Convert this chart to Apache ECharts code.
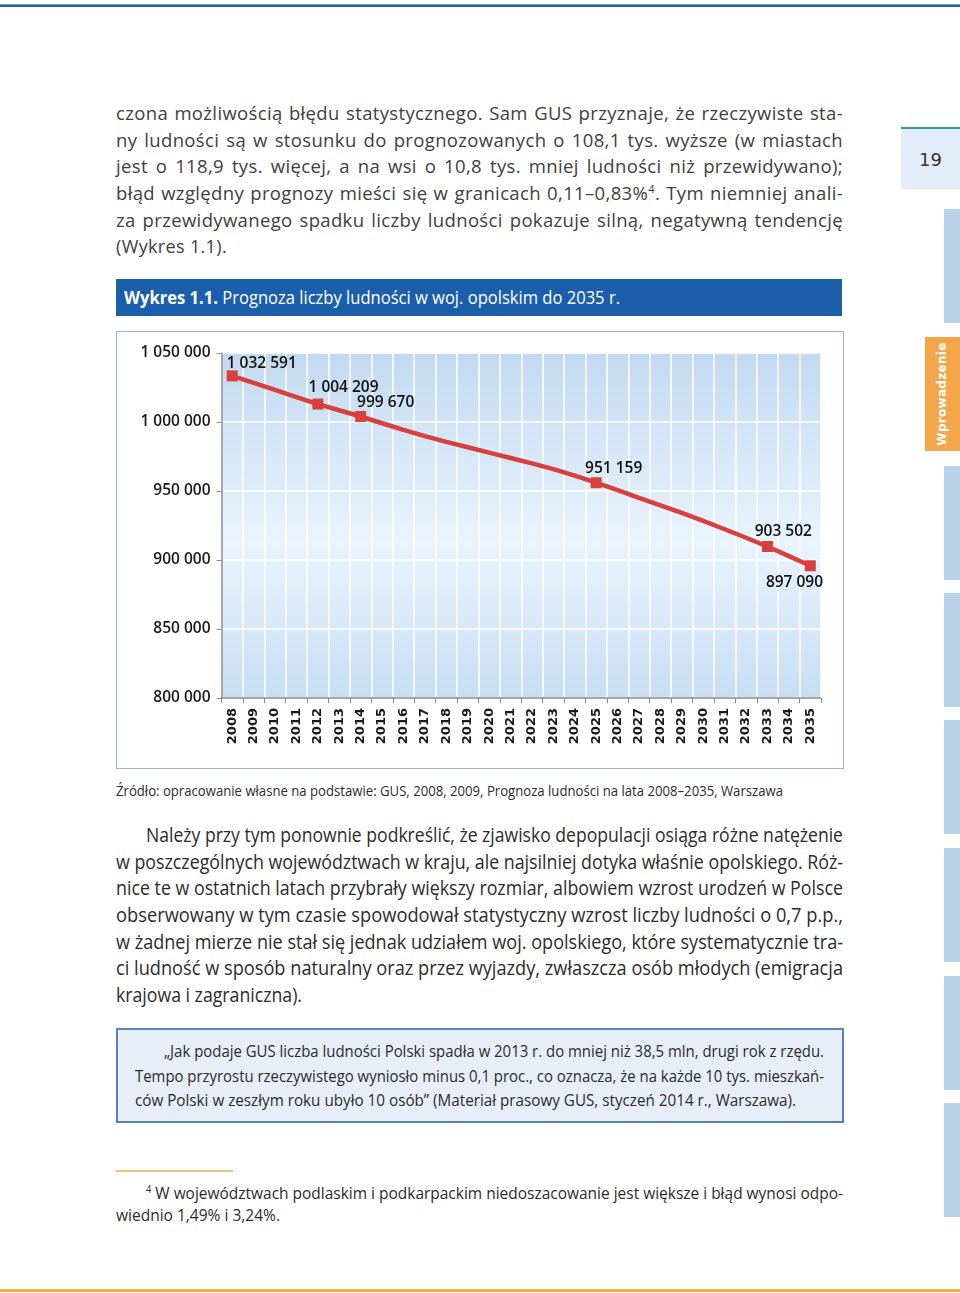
<!DOCTYPE html>
<html lang="pl">
<head>
<meta charset="utf-8">
<script src="https://cdn.jsdelivr.net/npm/echarts@6/dist/echarts.min.js"></script>
<style>
  html, body { margin: 0; padding: 0; background: #fff; }
  #page { position: relative; width: 960px; height: 1293px; overflow: hidden; background: #fff; }
  .ln { position: absolute; white-space: nowrap; display: inline-block; height: 26px; line-height: 26px; }
  .p1 { font-family: "Open Sans", sans-serif; font-size: 18.5px; color: #404040; font-weight: 400; letter-spacing: 0.35px; }
  .p2 { font-family: "Liberation Sans Narrow", "Open Sans", sans-serif; font-size: 19.5px; color: #2b2b2b; }
  .src { font-family: "Liberation Sans Narrow", "Open Sans", sans-serif; font-size: 14px; color: #2b2b2b; }
  .q { font-family: "Liberation Sans Narrow", "Open Sans", sans-serif; font-size: 17px; color: #2b2b2b; }
  .fn { font-family: "Liberation Sans Narrow", "Open Sans", sans-serif; font-size: 17px; color: #2b2b2b; }
  sup { font-size: 60%; line-height: 0; vertical-align: 0.6em; }
</style>
</head>
<body>
<div id="page">
  <!-- top rule -->
  <div style="position:absolute;left:0;top:4px;width:960px;height:1px;background:#58b3c9"></div>
  <div style="position:absolute;left:0;top:5px;width:960px;height:2px;background:#2b5f86"></div>

  <!-- right side page number and tabs -->
  <div style="position:absolute;left:901px;top:127px;width:59px;height:62px;background:#e3edf7;border-top:2px solid #3c93b2;box-sizing:border-box"></div>
  <div style="position:absolute;left:901px;top:147px;width:59px;height:26px;line-height:26px;text-align:center;font-family:'DejaVu Sans',sans-serif;font-size:18px;color:#333">19</div>
  <div id="tabs"></div>

  <!-- paragraph 1 -->
  <div class="ln p1" style="left:116px;top:100px" data-w="727" data-j="1">czona możliwością błędu statystycznego. Sam GUS przyznaje, że rzeczywiste sta-</div>
  <div class="ln p1" style="left:116px;top:127px" data-w="727" data-j="1">ny ludności są w stosunku do prognozowanych o 108,1 tys. wyższe (w miastach</div>
  <div class="ln p1" style="left:116px;top:153px" data-w="727" data-j="1">jest o 118,9 tys. więcej, a na wsi o 10,8 tys. mniej ludności niż przewidywano);</div>
  <div class="ln p1" style="left:116px;top:180px" data-w="727" data-j="1">błąd względny prognozy mieści się w granicach 0,11–0,83%<sup>4</sup>. Tym niemniej anali-</div>
  <div class="ln p1" style="left:116px;top:207px" data-w="727" data-j="1">za przewidywanego spadku liczby ludności pokazuje silną, negatywną tendencję</div>
  <div class="ln p1" style="left:116px;top:233px" data-w="111">(Wykres 1.1).</div>

  <!-- chart title bar -->
  <div style="position:absolute;left:116px;top:279px;width:726px;height:37px;background:#1b5eaa"></div>
  <div class="ln" style="left:124px;top:284px;font-family:'Liberation Sans Narrow','Open Sans',sans-serif;font-size:18px;color:#fff" data-w="496"><b>Wykres 1.1.</b> Prognoza liczby ludności w woj. opolskim do 2035 r.</div>

  <!-- chart frame + chart -->
  <div style="position:absolute;left:116px;top:331px;width:728px;height:438px;border:1.5px solid #9cb6cd;box-sizing:border-box"></div>
  <div id="chart" style="position:absolute;left:117px;top:332px;width:726px;height:436px"></div>

  <!-- source -->
  <div class="ln src" style="left:116px;top:778px" data-w="667">Źródło: opracowanie własne na podstawie: GUS, 2008, 2009, Prognoza ludności na lata 2008–2035, Warszawa</div>

  <!-- paragraph 2 -->
  <div class="ln p2" style="left:146px;top:822px" data-w="697" data-j="1">Należy przy tym ponownie podkreślić, że zjawisko depopulacji osiąga różne natężenie</div>
  <div class="ln p2" style="left:116px;top:849px" data-w="727" data-j="1">w poszczególnych województwach w kraju, ale najsilniej dotyka właśnie opolskiego. Róż-</div>
  <div class="ln p2" style="left:116px;top:875px" data-w="727" data-j="1">nice te w ostatnich latach przybrały większy rozmiar, albowiem wzrost urodzeń w Polsce</div>
  <div class="ln p2" style="left:116px;top:902px" data-w="727" data-j="1">obserwowany w tym czasie spowodował statystyczny wzrost liczby ludności o 0,7 p.p.,</div>
  <div class="ln p2" style="left:116px;top:929px" data-w="727" data-j="1">w żadnej mierze nie stał się jednak udziałem woj. opolskiego, które systematycznie tra-</div>
  <div class="ln p2" style="left:116px;top:955px" data-w="727" data-j="1">ci ludność w sposób naturalny oraz przez wyjazdy, zwłaszcza osób młodych (emigracja</div>
  <div class="ln p2" style="left:116px;top:982px" data-w="186">krajowa i zagraniczna).</div>

  <!-- quote box -->
  <div style="position:absolute;left:116px;top:1028px;width:728px;height:95px;background:#e8eef7;border:2px solid #5584bb;box-sizing:border-box"></div>
  <div class="ln q" style="left:164px;top:1038px" data-w="660">„Jak podaje GUS liczba ludności Polski spadła w 2013 r. do mniej niż 38,5 mln, drugi rok z rzędu.</div>
  <div class="ln q" style="left:135px;top:1063px" data-w="689">Tempo przyrostu rzeczywistego wyniosło minus 0,1 proc., co oznacza, że na każde 10 tys. mieszkań-</div>
  <div class="ln q" style="left:135px;top:1087px" data-w="661">ców Polski w zeszłym roku ubyło 10 osób” (Materiał prasowy GUS, styczeń 2014 r., Warszawa).</div>

  <!-- footnote -->
  <div style="position:absolute;left:116px;top:1170px;width:117px;height:2px;background:#e6c27a"></div>
  <div class="ln fn" style="left:146px;top:1180px" data-w="697"><sup>4</sup> W województwach podlaskim i podkarpackim niedoszacowanie jest większe i błąd wynosi odpo-</div>
  <div class="ln fn" style="left:116px;top:1202px" data-w="164">wiednio 1,49% i 3,24%.</div>

  <!-- bottom rule -->
  <div style="position:absolute;left:0;top:1289px;width:960px;height:3px;background:#f1b443"></div>
</div>

<script>
// ---------------- data ----------------
const years = ['2008','2009','2010','2011','2012','2013','2014','2015','2016','2017','2018','2019','2020','2021',
               '2022','2023','2024','2025','2026','2027','2028','2029','2030','2031','2032','2033','2034','2035'];
const population = [1033400, 1028300, 1023200, 1018100, 1013000, 1008500, 1004000, 999100, 994300, 989800,
                    985600, 981700, 977800, 973900, 970000, 965800, 961200, 956000, 950600, 945100,
                    939600, 934100, 928400, 922300, 916100, 909800, 902800, 895800];
const labelledYears = ['2008', '2012', '2014', '2025', '2033', '2035'];
const labelTexts = ['1 032 591', '1 004 209', '999 670', '951 159', '903 502', '897 090'];
const yMin = 800000, yMax = 1050000, yStep = 50000;

// ---------------- side tabs ----------------
(function () {
  const tabs = document.getElementById('tabs');
  const tops = [209, 337, 466, 593, 720, 848, 976, 1103];
  tops.forEach((t, i) => {
    const d = document.createElement('div');
    d.style.position = 'absolute';
    d.style.top = t + 'px';
    d.style.height = '114px';
    if (i === 1) {
      d.style.left = '925px'; d.style.width = '35px'; d.style.background = '#f4a64b';
      const s = document.createElement('div');
      s.textContent = 'Wprowadzenie';
      s.style.cssText = 'position:absolute;left:17px;top:57px;transform:translate(-50%,-50%) rotate(-90deg);white-space:nowrap;font-family:"DejaVu Sans",sans-serif;font-weight:bold;font-size:12px;color:#fff;letter-spacing:0.3px';
      d.appendChild(s);
    } else {
      d.style.left = '944px'; d.style.width = '16px'; d.style.background = '#b8d2ea';
    }
    tabs.appendChild(d);
  });
})();

// ---------------- text fitting ----------------
function fitLines() {
  document.querySelectorAll('.ln[data-w]').forEach(el => {
    const target = parseFloat(el.dataset.w);
    const w = el.getBoundingClientRect().width;
    const spaces = (el.textContent.match(/ /g) || []).length;
    if (el.dataset.j && w < target && spaces > 0) {
      el.style.wordSpacing = ((target - w) / spaces) + 'px';
    } else {
      el.style.transformOrigin = 'left center';
      el.style.transform = 'scaleX(' + (target / w) + ')';
    }
  });
}
if (document.fonts && document.fonts.ready) document.fonts.ready.then(fitLines); else fitLines();

// ---------------- chart ----------------
const labelOffsets = {
  '2008': [29.5, -12], '2012': [25.7, -16.3], '2014': [25, -13.7],
  '2025': [17.5, -14.3], '2033': [15.8, -15.3], '2035': [-15.8, 16.3]
};
const fmt = v => String(v).replace(/\B(?=(\d{3})+(?!\d))/g, ' ');

const seriesData = years.map((y, i) => {
  const k = labelledYears.indexOf(y);
  if (k < 0) return { value: population[i], symbol: 'none' };
  return {
    value: population[i],
    symbol: 'rect',
    symbolSize: 11,
    label: {
      show: true,
      position: 'inside',
      offset: labelOffsets[y],
      formatter: labelTexts[k],
      color: '#111',
      fontFamily: '"Open Sans", sans-serif',
      fontWeight: 600,
      fontSize: 15.5
    }
  };
});

const chart = echarts.init(document.getElementById('chart'), null, { renderer: 'canvas' });
chart.setOption({
  animation: false,
  grid: {
    left: 104.5, right: 22, top: 21, bottom: 70,
    show: true,
    borderWidth: 0,
    backgroundColor: {
      type: 'linear', x: 0, y: 0, x2: 0, y2: 1,
      colorStops: [
        { offset: 0, color: '#c3d9f0' },
        { offset: 0.55, color: '#e9f4fd' },
        { offset: 1, color: '#c8ddf2' }
      ]
    }
  },
  xAxis: {
    type: 'category',
    data: years,
    boundaryGap: true,
    axisLine: { show: true, lineStyle: { color: '#8c8c8c', width: 1.5 } },
    axisTick: { show: true, length: 5, lineStyle: { color: '#8c8c8c' } },
    splitLine: { show: true, interval: 0, lineStyle: { color: '#ffffff', width: 1.5 } },
    axisLabel: {
      interval: 0, rotate: 90, margin: 10,
      fontFamily: '"DejaVu Sans", sans-serif', fontWeight: 'bold', fontSize: 13, color: '#1a1a1a'
    }
  },
  yAxis: {
    type: 'value',
    min: yMin, max: yMax, interval: yStep,
    axisLine: { show: true, lineStyle: { color: '#8c8c8c', width: 1.5 } },
    axisTick: { show: true, length: 5, lineStyle: { color: '#8c8c8c' } },
    splitLine: { show: true, lineStyle: { color: '#ffffff', width: 1.5 } },
    axisLabel: {
      margin: 11, formatter: fmt,
      fontFamily: '"Open Sans", sans-serif', fontWeight: 600, fontSize: 15.5, color: '#1a1a1a'
    }
  },
  series: [{
    type: 'line',
    data: seriesData,
    showAllSymbol: true,
    lineStyle: { color: '#d8403d', width: 4.5 },
    itemStyle: { color: '#d8403d' },
    z: 3
  }]
});
</script>
</body>
</html>
